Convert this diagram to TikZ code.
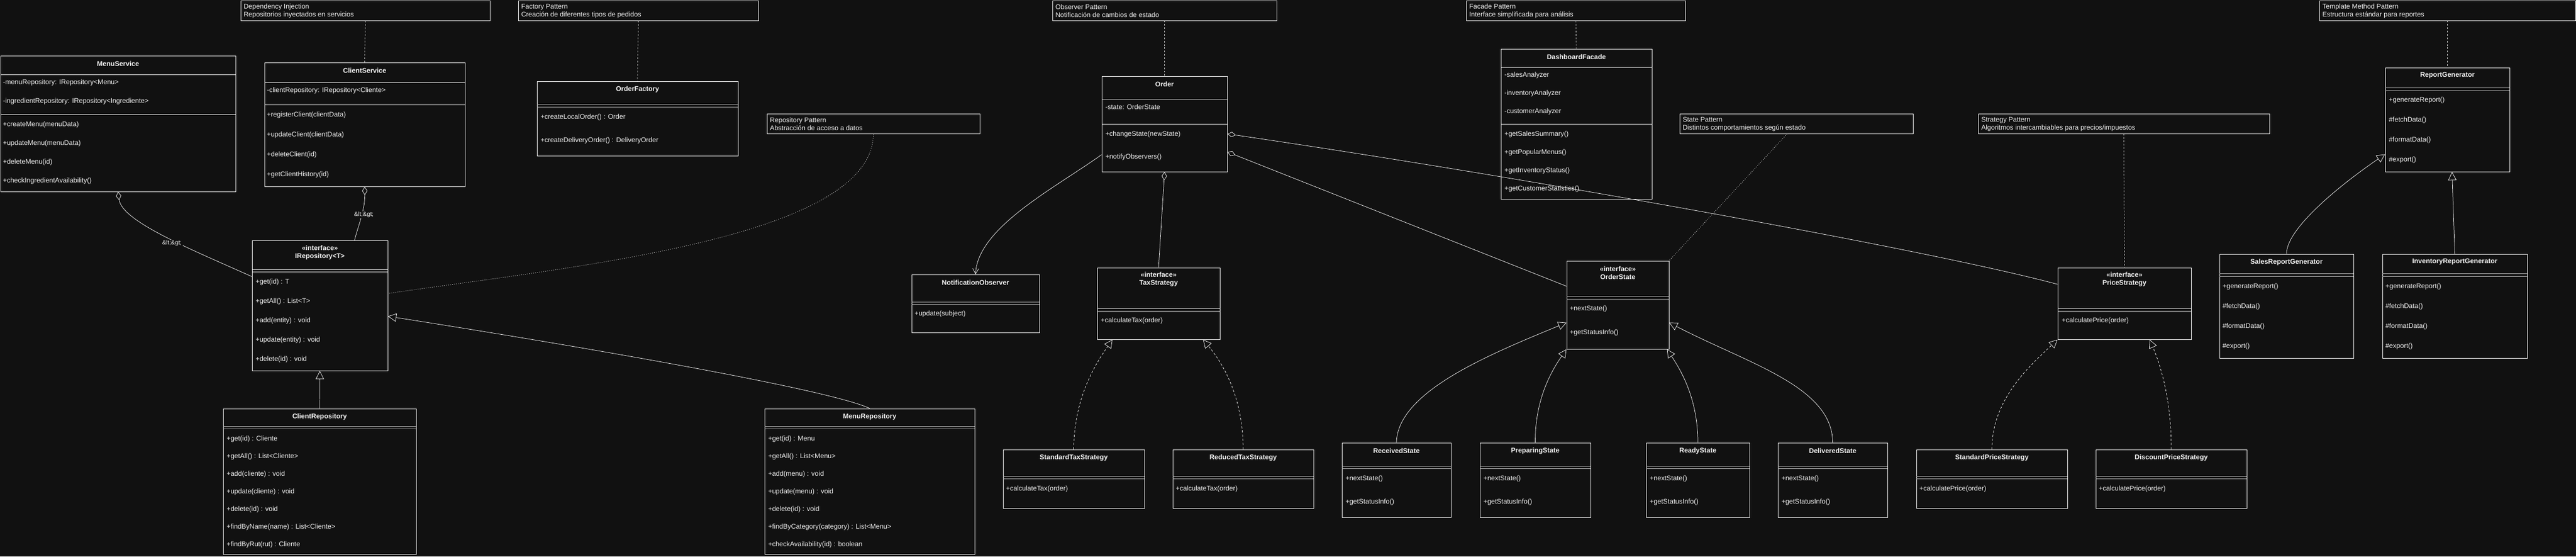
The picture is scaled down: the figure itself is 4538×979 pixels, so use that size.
\documentclass[tikz,border=0pt]{standalone}
\usepackage{fontspec}
\setmainfont{Liberation Sans}
\usetikzlibrary{arrows.meta, fit}
\definecolor{bgdark}{HTML}{111111}
\definecolor{ink}{HTML}{F2F2F2}

\begin{document}
\begin{tikzpicture}[x=0.75pt, y=-0.75pt,
    clsbox/.style={draw=ink, line width=0.75pt, inner sep=0pt, fill=bgdark},
    notebox/.style={draw=ink, line width=0.75pt, inner sep=0pt, fill=bgdark},
    clstitle/.style={text=ink, font=\fontsize{9pt}{10.5pt}\selectfont\bfseries, align=center, inner sep=0pt},
    clsmember/.style={text=ink, font=\fontsize{9pt}{10.5pt}\selectfont, anchor=west, inner sep=0pt},
    notetxt/.style={text=ink, font=\fontsize{9pt}{10.5pt}\selectfont, anchor=west, align=left, inner sep=0pt},
    clsdiv/.style={draw=ink, line width=0.6pt},
    clsddiv/.style={draw=ink!70!bgdark, line width=0.6pt},
    conn/.style={draw=ink, line width=0.55pt},
    notelink/.style={draw=ink!85!bgdark, line width=0.55pt, dash pattern=on 2.2pt off 2.2pt},
    dotlink/.style={draw=ink!85!bgdark, line width=0.6pt, dash pattern=on 0.9pt off 1.8pt},
    agg/.style={conn, {Diamond[open, length=11pt, width=7pt]}-},
    inherit/.style={conn, -{Triangle[open, length=11pt, width=11pt]}},
    realize/.style={inherit, dash pattern=on 3pt off 2.5pt},
    notify/.style={conn, -{Straight Barb[length=7pt, width=8pt]}},
    lbl/.style={text=ink, fill=bgdark, font=\fontsize{8pt}{9pt}\selectfont, inner sep=1pt}]

  \fill[bgdark] (0,0) rectangle (4538,979);
  \useasboundingbox (0,0) rectangle (4538,979);

  % pattern notes
  \foreach \n/\xa/\ya/\xb/\ta/\tb in {
      dinote/424/1/863/{Dependency Injection}/{Repositorios inyectados en servicios},
      factnote/913/1/1336/{Factory Pattern}/{Creación de diferentes tipos de pedidos},
      reponote/1351/200/1726/{Repository Pattern}/{Abstracción de acceso a datos},
      obsnote/1854/1/2249/{Observer Pattern}/{Notificación de cambios de estado},
      facadenote/2583/1/2969/{Facade Pattern}/{Interface simplificada para análisis},
      statenote/2959/200/3370/{State Pattern}/{Distintos comportamientos según estado},
      stratnote/3485/200/3998/{Strategy Pattern}/{Algoritmos intercambiables para precios/impuestos},
      tmplnote/4086/1/4537/{Template Method Pattern}/{Estructura estándar para reportes}}
  {
    \node[notebox, fit={(\xa,\ya) (\xb,\ya+35)}] (\n) {};
    \node[notetxt] (\n-txt) at (\xa+5,\ya+18.5) {\ta\\\tb};
  }

  % services
  \node[clsbox, fit={(1,98) (415,337)}] (menusvc) {};
  \node[clstitle] (menusvc-t) at (208,112) {MenuService};
  \draw[clsdiv] (1,131) -- (415,131) (1,201) -- (415,201);
  \foreach \m [count=\i from 0] in {-menuRepository: IRepository<Menu>, -ingredientRepository: IRepository<Ingrediente>}
    \node[clsmember] (menusvc-a\i) at (5,145+33*\i) {\m};
  \foreach \m [count=\i from 0] in {+createMenu(menuData), +updateMenu(menuData), +deleteMenu(id), +checkIngredientAvailability()}
    \node[clsmember] (menusvc-m\i) at (5,219+33*\i) {\m};

  \node[clsbox, fit={(466,110) (819,328)}] (clientsvc) {};
  \node[clstitle] (clientsvc-t) at (642.5,124) {ClientService};
  \draw[clsdiv] (466,145) -- (819,145) (466,184) -- (819,184);
  \node[clsmember] (clientsvc-a0) at (470,159) {-clientRepository: IRepository<Cliente>};
  \foreach \m [count=\i from 0] in {+registerClient(clientData), +updateClient(clientData), +deleteClient(id), +getClientHistory(id)}
    \node[clsmember] (clientsvc-m\i) at (470,202+35*\i) {\m};

  \node[clsbox, fit={(946,143) (1300,274)}] (orderfac) {};
  \node[clstitle] (orderfac-t) at (1123,157) {OrderFactory};
  \draw[clsddiv] (946,183) -- (1300,183) (946,188) -- (1300,188);
  \foreach \m [count=\i from 0] in {+createLocalOrder() : Order, +createDeliveryOrder() : DeliveryOrder}
    \node[clsmember] (orderfac-m\i) at (952,206+41*\i) {\m};

  % repositories
  \node[clsbox, fit={(444,423) (683,652)}] (irepo) {};
  \node[clstitle] (irepo-t) at (563.5,444) {<<interface>>\\IRepository<T>};
  \draw[clsdiv] (444,474) -- (683,474) (444,478) -- (683,478);
  \foreach \m [count=\i from 0] in {+get(id) : T, +getAll() : List<T>, +add(entity) : void, +update(entity) : void, +delete(id) : void}
    \node[clsmember] (irepo-m\i) at (450,496+34*\i) {\m};

  \node[clsbox, fit={(393,719) (733,975)}] (clientrepo) {};
  \node[clstitle] (clientrepo-t) at (563,733) {ClientRepository};
  \draw[clsddiv] (393,750) -- (733,750) (393,754) -- (733,754);
  \foreach \m [count=\i from 0] in {+get(id) : Cliente, +getAll() : List<Cliente>, +add(cliente) : void, +update(cliente) : void, +delete(id) : void, +findByName(name) : List<Cliente>, +findByRut(rut) : Cliente}
    \node[clsmember] (clientrepo-m\i) at (399,772+31*\i) {\m};

  \node[clsbox, fit={(1347,719) (1717,975)}] (menurepo) {};
  \node[clstitle] (menurepo-t) at (1532,733) {MenuRepository};
  \draw[clsddiv] (1347,750) -- (1717,750) (1347,754) -- (1717,754);
  \foreach \m [count=\i from 0] in {+get(id) : Menu, +getAll() : List<Menu>, +add(menu) : void, +update(menu) : void, +delete(id) : void, +findByCategory(category) : List<Menu>, +checkAvailability(id) : boolean}
    \node[clsmember] (menurepo-m\i) at (1353,772+31*\i) {\m};

  % order and observer
  \node[clsbox, fit={(1941,134) (2162,302)}] (order) {};
  \node[clstitle] (order-t) at (2051.5,148) {Order};
  \draw[clsdiv] (1941,174) -- (2162,174) (1941,218) -- (2162,218);
  \node[clsmember] (order-a0) at (1947,188) {-state: OrderState};
  \foreach \m [count=\i from 0] in {+changeState(newState), +notifyObservers()}
    \node[clsmember] (order-m\i) at (1947,236+40*\i) {\m};

  \node[clsbox, fit={(1606,483) (1831,585)}] (notifobs) {};
  \node[clstitle] (notifobs-t) at (1718.5,497) {NotificationObserver};
  \draw[clsddiv] (1606,531) -- (1831,531) (1606,535) -- (1831,535);
  \node[clsmember] (notifobs-m0) at (1611,552) {+update(subject)};

  % strategies
  \node[clsbox, fit={(1933,471) (2149,597)}] (taxstrat) {};
  \node[clstitle] (taxstrat-t) at (2041,491.5) {<<interface>>\\TaxStrategy};
  \draw[clsdiv] (1933,542) -- (2149,542) (1933,547) -- (2149,547);
  \node[clsmember] (taxstrat-m0) at (1939,564) {+calculateTax(order)};

  \node[clsbox, fit={(3625,471) (3860,597)}] (pricestrat) {};
  \node[clstitle] (pricestrat-t) at (3742.5,491.5) {<<interface>>\\PriceStrategy};
  \draw[clsdiv] (3625,542) -- (3860,542) (3625,547) -- (3860,547);
  \node[clsmember] (pricestrat-m0) at (3632,564) {+calculatePrice(order)};

  \foreach \n/\xa/\xb/\cname/\op in {stdtax/1767/2016/StandardTaxStrategy/+calculateTax(order),
      redtax/2066/2314/ReducedTaxStrategy/+calculateTax(order),
      stdprice/3376/3642/StandardPriceStrategy/+calculatePrice(order),
      discprice/3692/3958/DiscountPriceStrategy/+calculatePrice(order)}
  {
    \node[clsbox, fit={(\xa,791) (\xb,894)}] (\n) {};
    \node[clstitle] (\n-t) at ({(\xa+\xb)/2},805) {\cname};
    \draw[clsddiv] (\xa,838) -- (\xb,838) (\xa,842) -- (\xb,842);
    \node[clsmember] (\n-m0) at (\xa+5,860) {\op};
  }

  % facade
  \node[clsbox, fit={(2644,86) (2910,350)}] (dashfac) {};
  \node[clstitle] (dashfac-t) at (2777,100) {DashboardFacade};
  \draw[clsdiv] (2644,118) -- (2910,118) (2644,218) -- (2910,218);
  \foreach \m [count=\i from 0] in {-salesAnalyzer, -inventoryAnalyzer, -customerAnalyzer}
    \node[clsmember] (dashfac-a\i) at (2650,132+32*\i) {\m};
  \foreach \m [count=\i from 0] in {+getSalesSummary(), +getPopularMenus(), +getInventoryStatus(), +getCustomerStatistics()}
    \node[clsmember] (dashfac-m\i) at (2650,236+32*\i) {\m};

  % states
  \node[clsbox, fit={(2760,459) (2940,614)}] (ostate) {};
  \node[clstitle] (ostate-t) at (2850,480) {<<interface>>\\OrderState};
  \draw[clsddiv] (2760,521) -- (2940,521) (2760,526) -- (2940,526);
  \node[clsmember] (ostate-m0) at (2765,543) {+nextState()};
  \node[clsmember] (ostate-m1) at (2765,585) {+getStatusInfo()};

  \foreach \n/\xa/\xb/\cname in {recvstate/2364/2556/ReceivedState, prepstate/2607/2802/PreparingState,
      readystate/2900/3082/ReadyState, delivstate/3132/3325/DeliveredState}
  {
    \node[clsbox, fit={(\xa,779) (\xb,910)}] (\n) {};
    \node[clstitle] (\n-t) at ({(\xa+\xb)/2},793) {\cname};
    \draw[clsddiv] (\xa,820) -- (\xb,820) (\xa,824) -- (\xb,824);
    \node[clsmember] (\n-m0) at (\xa+6,842) {+nextState()};
    \node[clsmember] (\n-m1) at (\xa+6,883) {+getStatusInfo()};
  }

  % reports
  \node[clsbox, fit={(4202,119) (4421,302)}] (reportgen) {};
  \node[clstitle] (reportgen-t) at (4311.5,133) {ReportGenerator};
  \draw[clsddiv] (4202,154) -- (4421,154) (4202,159) -- (4421,159);
  \foreach \m [count=\i from 0] in {+generateReport(), \#fetchData(), \#formatData(), \#export()}
    \node[clsmember] (reportgen-m\i) at (4208,176+35*\i) {\m};

  \foreach \n/\xa/\xb/\cname in {salesrep/3910/4146/SalesReportGenerator, invrep/4197/4452/InventoryReportGenerator}
  {
    \node[clsbox, fit={(\xa,447) (\xb,630)}] (\n) {};
    \node[clstitle] (\n-t) at ({(\xa+\xb)/2},461) {\cname};
    \draw[clsddiv] (\xa,481) -- (\xb,481) (\xa,486) -- (\xb,486);
    \foreach \m [count=\i from 0] in {+generateReport(), \#fetchData(), \#formatData(), \#export()}
      \node[clsmember] (\n-m\i) at (\xa+5,504+35*\i) {\m};
  }

  % note links
  \draw[notelink] (dinote.south) -- (clientsvc.north);
  \draw[notelink] (factnote.south) -- (orderfac.north);
  \draw[notelink] (obsnote.south) -- (order.north);
  \draw[notelink] (facadenote.south) -- (dashfac.north);
  \draw[notelink] (stratnote.south) -- (pricestrat.north);
  \draw[notelink] (tmplnote.south) -- (reportgen.north);
  \draw[dotlink] (reponote.south) .. controls (1538,420) and (1000,470) .. (irepo.10);
  \draw[dotlink] (statenote.-132) -- (ostate.north east);

  % relations
  \draw[agg] (menusvc.south) .. controls (215,390) and (340,440) .. (irepo.157);
  \draw[agg] (clientsvc.south) .. controls (643,370) and (630,400) .. (irepo.62);
  \draw[agg] (order.south) -- (taxstrat.north);
  \draw[agg] (order.-24) -- (ostate.160);
  \draw[agg] (order.-9) .. controls (2700,314) and (3400,440) .. (pricestrat.164);
  \draw[notify] (order.206) .. controls (1860,330) and (1722,400) .. (notifobs.north);

  \draw[inherit] (clientrepo.north) -- (irepo.south);
  \draw[inherit] (menurepo.north) .. controls (1450,680) and (900,590) .. (irepo.-9);
  \draw[inherit] (recvstate.north) .. controls (2462,690) and (2620,625) .. (ostate.199);
  \draw[inherit] (prepstate.north) .. controls (2704,700) and (2735,650) .. (ostate.south west);
  \draw[inherit] (readystate.north) .. controls (2991,700) and (2960,650) .. (ostate.-42);
  \draw[inherit] (delivstate.north) .. controls (3228,680) and (3080,640) .. (ostate.-19);
  \draw[inherit] (salesrep.north) .. controls (4028,400) and (4130,320) .. (reportgen.209);
  \draw[inherit] (invrep.north) -- (reportgen.-85);

  \draw[realize] (stdtax.north) .. controls (1892,700) and (1930,640) .. (taxstrat.-142);
  \draw[realize] (redtax.north) .. controls (2190,700) and (2155,640) .. (taxstrat.-39);
  \draw[realize] (stdprice.north) .. controls (3509,700) and (3580,640) .. (pricestrat.south west);
  \draw[realize] (discprice.north) .. controls (3825,700) and (3805,640) .. (pricestrat.-55);

  \node[lbl] (menusvc-lbl) at (303,428) {\&lt;\&gt;};
  \node[lbl] (clientsvc-lbl) at (641,378) {\&lt;\&gt;};
\end{tikzpicture}
\end{document}
